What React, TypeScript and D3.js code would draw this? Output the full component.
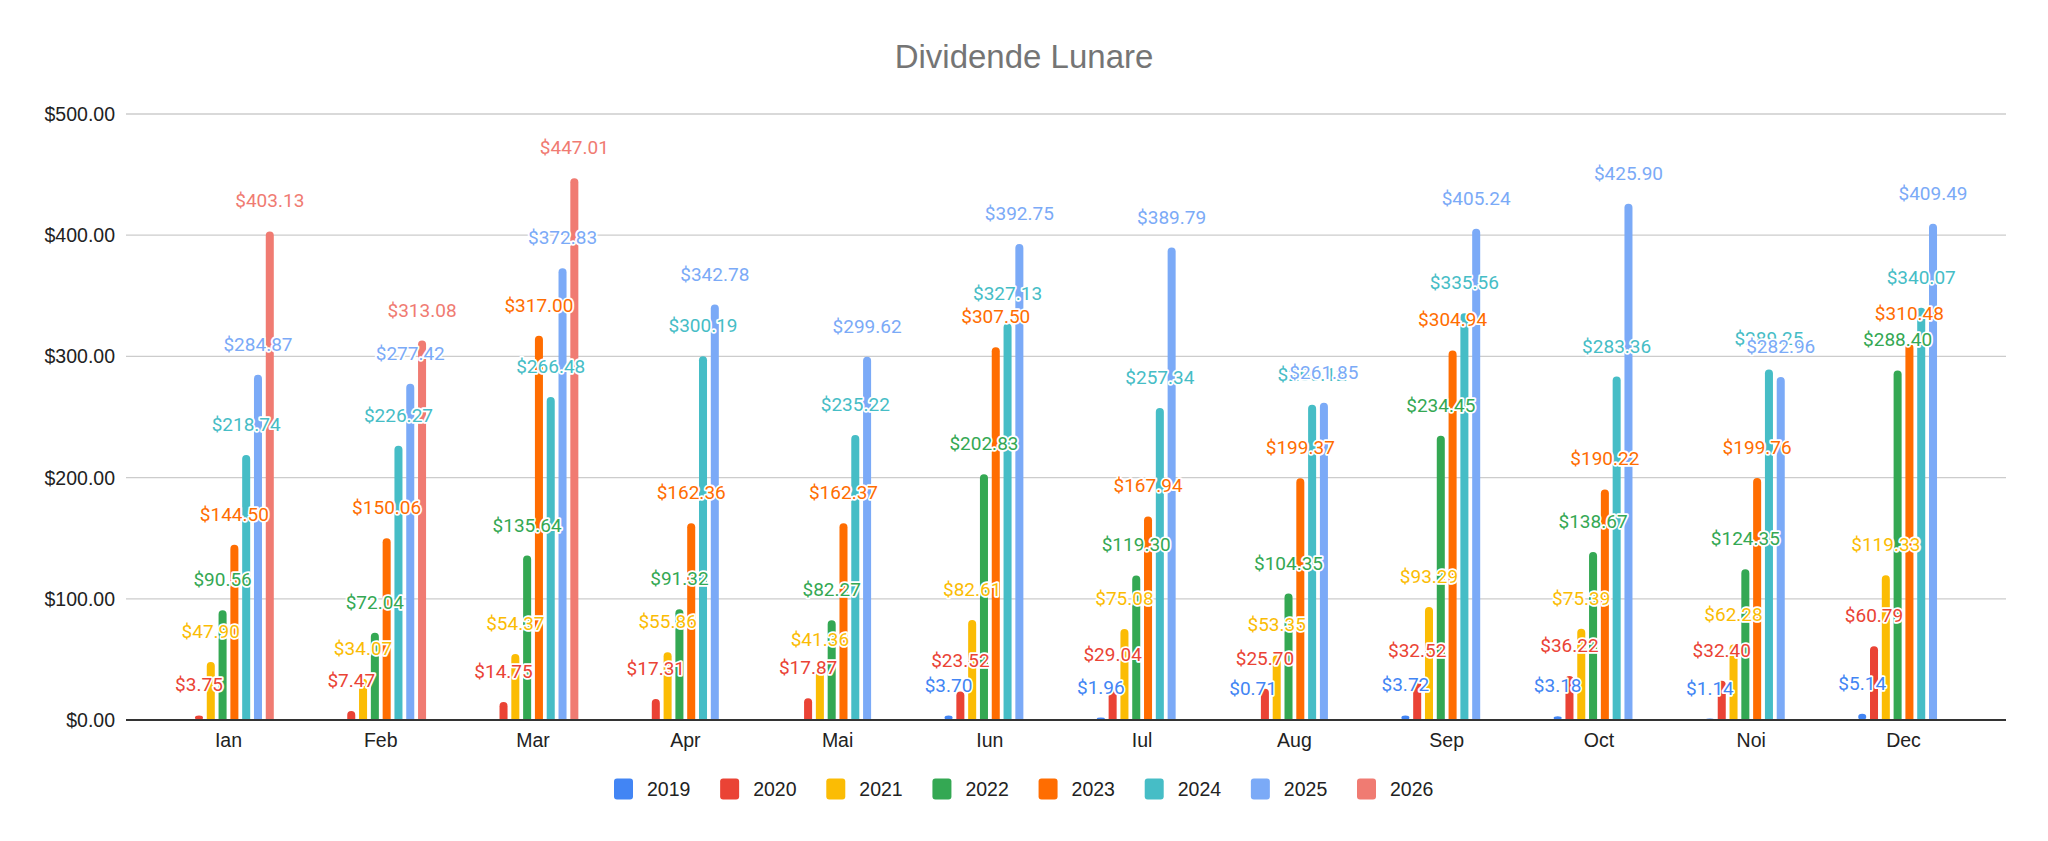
import React, { useEffect, useRef } from 'react';
import * as d3 from 'd3';

const months = ['Ian', 'Feb', 'Mar', 'Apr', 'Mai', 'Iun', 'Iul', 'Aug', 'Sep', 'Oct', 'Noi', 'Dec'];
const years = ['2019', '2020', '2021', '2022', '2023', '2024', '2025', '2026'];

const v2019 = [null, null, null, null, null, 3.7, 1.96, 0.71, 3.72, 3.18, 1.14, 5.14];
const v2020 = [3.75, 7.47, 14.75, 17.31, 17.87, 23.52, 29.04, 25.7, 32.52, 36.22, 32.4, 60.79];
const v2021 = [47.9, 34.07, 54.37, 55.86, 41.36, 82.61, 75.08, 53.35, 93.29, 75.39, 62.28, 119.33];
const v2022 = [90.56, 72.04, 135.64, 91.32, 82.27, 202.83, 119.3, 104.35, 234.45, 138.67, 124.35, 288.4];
const v2023 = [144.5, 150.06, 317.0, 162.36, 162.37, 307.5, 167.94, 199.37, 304.94, 190.22, 199.76, 310.48];
const v2024 = [218.74, 226.27, 266.48, 300.19, 235.22, 327.13, 257.34, 260.12, 335.56, 283.36, 289.25, 340.07];
const v2025 = [284.87, 277.42, 372.83, 342.78, 299.62, 392.75, 389.79, 261.85, 405.24, 425.9, 282.96, 409.49];
const v2026 = [403.13, 313.08, 447.01, null, null, null, null, null, null, null, null, null];

const seriesValues = [v2019, v2020, v2021, v2022, v2023, v2024, v2025, v2026];
const colors = ['#4285f4', '#ea4335', '#fbbc04', '#34a853', '#ff6d01', '#46bdc6', '#7baaf7', '#f07b72'];
const yTicks = [0, 100, 200, 300, 400, 500];

const W = 2048;
const H = 841;
const axisFont = '"Liberation Sans", Arial, sans-serif';
const labelFont = 'Roboto, "Liberation Sans", Arial, sans-serif';

export default function App() {
  const ref = useRef<SVGSVGElement>(null);

  useEffect(() => {
    const svg = d3.select(ref.current);
    svg.selectAll('*').remove();

    const left = 126;
    const right = 2006;
    const y = d3.scaleLinear().domain([0, 500]).range([720, 114]);
    const x = d3.scaleBand<string>().domain(months).range([left, right]).paddingOuter(0.173).paddingInner(0);
    const groupW = 94.4;
    const xi = d3.scaleBand<string>().domain(years).range([0, groupW]).paddingInner(0.32).paddingOuter(0.16);
    const bw = xi.bandwidth();
    const groupX = (m: string) => (x(m) as number) + x.bandwidth() / 2 - groupW / 2;

    svg.append('rect').attr('width', W).attr('height', H).attr('fill', '#fff');

    // title
    svg.append('text')
      .attr('x', W / 2).attr('y', 68)
      .attr('text-anchor', 'middle')
      .attr('font-family', axisFont).attr('font-size', 33)
      .attr('fill', '#757575')
      .text('Dividende Lunare');

    // grid
    svg.append('g').selectAll('line')
      .data(yTicks.filter(t => t > 0))
      .enter().append('line')
      .attr('x1', left).attr('x2', right)
      .attr('y1', d => y(d)).attr('y2', d => y(d))
      .attr('stroke', '#cccccc').attr('stroke-width', 1.3);

    svg.append('g').selectAll('text')
      .data(yTicks)
      .enter().append('text')
      .attr('x', 115).attr('y', d => y(d) + 7)
      .attr('text-anchor', 'end')
      .attr('font-family', axisFont).attr('font-size', 19.5)
      .attr('fill', '#222')
      .text(d => `$${d.toFixed(2)}`);

    // bars
    type Bar = { m: string; yr: string; v: number; c: string };
    const bars: Bar[] = [];
    seriesValues.forEach((arr, si) => {
      arr.forEach((v, mi) => {
        if (v != null) bars.push({ m: months[mi], yr: years[si], v, c: colors[si] });
      });
    });

    const barPath = (b: Bar) => {
      const x0 = groupX(b.m) + (xi(b.yr) as number);
      const y0 = y(b.v);
      const y1 = y(0);
      const h = y1 - y0;
      const r = bw / 2;
      if (h < bw) {
        const ry = Math.max(h / 2, 0.4);
        return `M${x0},${y1 - ry} a${r},${ry} 0 0 1 ${bw},0 a${r},${ry} 0 0 1 ${-bw},0 Z`;
      }
      return `M${x0},${y1} V${y0 + r} A${r},${r} 0 0 1 ${x0 + bw},${y0 + r} V${y1} Z`;
    };

    svg.append('g').selectAll('path')
      .data(bars)
      .enter().append('path')
      .attr('d', barPath)
      .attr('fill', d => d.c);

    // baseline
    svg.append('line')
      .attr('x1', left).attr('x2', right)
      .attr('y1', y(0)).attr('y2', y(0))
      .attr('stroke', '#333').attr('stroke-width', 2);

    // x labels
    svg.append('g').selectAll('text')
      .data(months)
      .enter().append('text')
      .attr('x', d => (x(d) as number) + x.bandwidth() / 2)
      .attr('y', 747)
      .attr('text-anchor', 'middle')
      .attr('font-family', axisFont).attr('font-size', 19.5)
      .attr('fill', '#222')
      .text(d => d);

    // data labels
    svg.append('g').selectAll('text')
      .data(bars)
      .enter().append('text')
      .attr('x', d => groupX(d.m) + (xi(d.yr) as number) + bw / 2)
      .attr('y', d => y(d.v) - 24)
      .attr('text-anchor', 'middle')
      .attr('font-family', labelFont).attr('font-size', 19)
      .attr('fill', d => d.c)
      .attr('stroke', '#fff').attr('stroke-width', 3.5)
      .attr('stroke-linejoin', 'round')
      .attr('paint-order', 'stroke')
      .text(d => `$${d.v.toFixed(2)}`);

    // legend
    const lx = d3.scalePoint<string>().domain(years).range([614, 1357]);
    const lg = svg.append('g').selectAll('g')
      .data(years)
      .enter().append('g')
      .attr('transform', d => `translate(${lx(d)},789)`);
    lg.append('rect')
      .attr('x', 0).attr('y', -10.5).attr('width', 19).attr('height', 21)
      .attr('rx', 3)
      .attr('fill', (_, i) => colors[i]);
    lg.append('text')
      .attr('x', 33).attr('y', 7)
      .attr('font-family', axisFont).attr('font-size', 19.5)
      .attr('fill', '#222')
      .text(d => d);
  }, []);

  return (
    <svg
      ref={ref}
      width={W}
      height={H}
      style={{ position: 'absolute', left: 0, top: 0, display: 'block' }}
    />
  );
}
